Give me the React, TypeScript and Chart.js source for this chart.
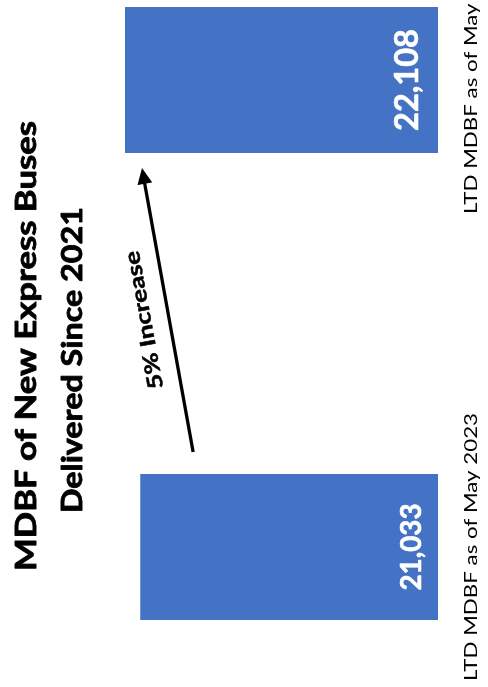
import React, { useEffect, useRef } from 'react';
import { Chart, registerables } from 'chart.js';

Chart.register(...registerables);

const categories = ['LTD MDBF as of May 2023', 'LTD MDBF as of May 2024'];
const mdbfValues = [21033, 22108];
const valueLabels = ['21,033', '22,108'];
const titleLines = ['MDBF of New Express Buses', 'Delivered Since 2021'];
const arrowLabel = '5% Increase';

const W = 687;
const H = 488;
const FONT = 'Lato, "Liberation Sans", sans-serif';
const BAR_BLUE = '#4472C4';

// draw text centred at cx, horizontally stretched to a target width
function fillFit(
  ctx: CanvasRenderingContext2D,
  text: string,
  cx: number,
  y: number,
  target: number,
  bolden = 0,
) {
  const w = ctx.measureText(text).width;
  const sx = w > 0 ? target / w : 1;
  ctx.save();
  ctx.translate(cx, y);
  ctx.scale(sx, 1);
  ctx.textAlign = 'center';
  ctx.fillText(text, 0, 0);
  if (bolden > 0) {
    ctx.lineWidth = bolden;
    ctx.strokeStyle = ctx.fillStyle as string;
    ctx.lineJoin = 'round';
    ctx.strokeText(text, 0, 0);
  }
  ctx.restore();
}

const overlayPlugin = {
  id: 'overlay',
  afterDraw(chart: any) {
    const ctx = chart.ctx as CanvasRenderingContext2D;
    const area = chart.chartArea;
    const xScale = chart.scales.x;
    const meta = chart.getDatasetMeta(0);
    const bars = meta.data as any[];

    ctx.save();
    ctx.textBaseline = 'alphabetic';

    // Title (two lines)
    ctx.fillStyle = '#000';
    ctx.font = `bold 29px ${FONT}`;
    fillFit(ctx, titleLines[0], 341, 36, 450, 0.8);
    fillFit(ctx, titleLines[1], 327, 82, 306, 0.8);

    // Category labels
    ctx.font = `18px ${FONT}`;
    categories.forEach((c, i) => {
      const x = xScale.getPixelForValue(i);
      fillFit(ctx, c, x, area.bottom + 39, 268, 0);
    });

    // Value labels inside bar base
    const sizes = [29, 33];
    const widths = [87, 102];
    ctx.fillStyle = '#fff';
    bars.forEach((bar, i) => {
      ctx.font = `bold ${sizes[i]}px ${FONT}`;
      fillFit(ctx, valueLabels[i], bar.x, area.bottom - 17 - (i === 1 ? 3 : 0), widths[i], 0.6);
    });

    // Arrow from bar 1 toward bar 2
    const b1 = bars[0];
    const b2 = bars[1];
    const x0 = b1.x + 95;
    const y0 = b1.y + 53;
    const x1 = b2.x - 88;
    const y1 = b2.y + 17;
    const ang = Math.atan2(y1 - y0, x1 - x0);
    const head = 16;
    ctx.strokeStyle = '#000';
    ctx.fillStyle = '#000';
    ctx.lineWidth = 3.2;
    ctx.beginPath();
    ctx.moveTo(x0, y0);
    ctx.lineTo(x1 - Math.cos(ang) * (head - 2), y1 - Math.sin(ang) * (head - 2));
    ctx.stroke();
    ctx.beginPath();
    ctx.moveTo(x1, y1);
    ctx.lineTo(x1 - Math.cos(ang) * head - Math.sin(ang) * 7.5, y1 - Math.sin(ang) * head + Math.cos(ang) * 7.5);
    ctx.lineTo(x1 - Math.cos(ang) * head + Math.sin(ang) * 7.5, y1 - Math.sin(ang) * head - Math.cos(ang) * 7.5);
    ctx.closePath();
    ctx.fill();

    // Arrow label
    const mx = x0 + (x1 - x0) * 0.48;
    const my = y0 + (y1 - y0) * 0.48;
    ctx.translate(mx, my);
    ctx.rotate(ang);
    ctx.font = `bold 21px ${FONT}`;
    fillFit(ctx, arrowLabel, 0, -18, 140, 0.5);
    ctx.restore();
  },
};

export default function App() {
  const ref = useRef<HTMLCanvasElement | null>(null);

  useEffect(() => {
    document.body.style.margin = '0';
    if (!ref.current) return;
    const chart = new Chart(ref.current, {
      type: 'bar',
      data: {
        labels: categories,
        datasets: [
          {
            data: mdbfValues,
            backgroundColor: BAR_BLUE,
            borderWidth: 0,
            categoryPercentage: 1,
            barPercentage: 0.3126,
            clip: false as any,
          },
        ],
      },
      options: {
        animation: false,
        responsive: false,
        layout: { padding: { left: 140, right: 80, top: 84, bottom: 50 } },
        plugins: {
          legend: { display: false },
          tooltip: { enabled: false },
          title: { display: false },
        },
        scales: {
          x: { display: false, offset: false },
          y: { display: false, min: 0, max: 25000 },
        },
      },
      plugins: [overlayPlugin],
    });
    return () => chart.destroy();
  }, []);

  return (
    <div
      style={{
        position: 'fixed',
        left: 0,
        top: 0,
        width: W,
        height: H,
        background: '#fff',
        transformOrigin: 'top left',
        transform: `translateY(${W}px) rotate(-90deg)`,
        overflow: 'hidden',
      }}
    >
      <canvas ref={ref} width={W} height={H} style={{ width: W, height: H, display: 'block' }} />
    </div>
  );
}
